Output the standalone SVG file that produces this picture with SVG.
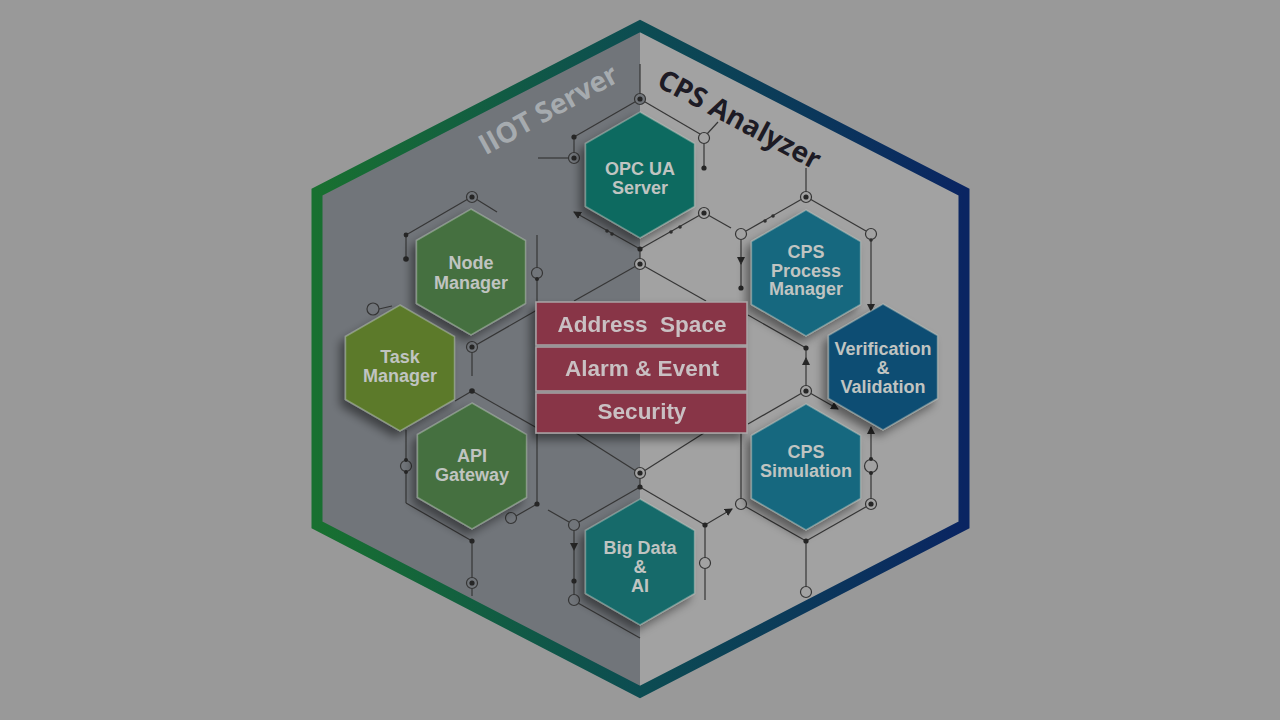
<svg xmlns="http://www.w3.org/2000/svg" width="1280" height="720" viewBox="0 0 1280 720">
<defs>
<linearGradient id="frameGrad" gradientUnits="userSpaceOnUse" x1="317" y1="0" x2="964" y2="0">
<stop offset="0" stop-color="#187030"/>
<stop offset="0.5" stop-color="#0c4c52"/>
<stop offset="1" stop-color="#0a2562"/>
</linearGradient>
<filter id="sh" x="-40%" y="-40%" width="180%" height="180%">
<feDropShadow dx="-5" dy="6" stdDeviation="5" flood-color="#000" flood-opacity="0.45"/>
</filter>
<marker id="arr" viewBox="0 0 8 8" refX="7" refY="4" markerWidth="8" markerHeight="8" markerUnits="userSpaceOnUse" orient="auto">
<path d="M0,0 L8,4 L0,8 z" fill="#262626"/>
</marker>
<polygon id="hex" points="0,-63 54.5,-31.5 54.5,31.5 0,63 -54.5,31.5 -54.5,-31.5"/>
</defs>
<style>
.ln{stroke:#363636;stroke-width:1.2;fill:none}
.dot{fill:#262626}
.sdot{fill:#303030}
.ocL{fill:#71757a;stroke:#363636;stroke-width:1.2}
.ocR{fill:#a2a2a2;stroke:#363636;stroke-width:1.2}
.hx{stroke:#c4ccc4;stroke-opacity:0.45;stroke-width:1.5;filter:url(#sh)}
.nt{font-family:"Liberation Sans",Arial,sans-serif;font-weight:bold;font-size:18px;fill:#c0c4c1;text-anchor:middle}
.bx{fill:#883646;stroke:#a9a4a6;stroke-width:1.5}
.bt{font-family:"Liberation Sans",Arial,sans-serif;font-weight:bold;font-size:22.5px;fill:#c9c0c3;text-anchor:middle;white-space:pre}
.ttl{font-family:"Open Sans","Liberation Sans",sans-serif;font-weight:700;font-size:28px}
</style>

<rect width="1280" height="720" fill="#999999"/>

<g id="frame">
<polygon points="640,26 317,192 317,525 640,692" fill="#71757a"/>
<polygon points="640,26 964,192 964,525 640,692" fill="#a2a2a2"/>
<polygon points="640,26 964,192 964,525 640,692 317,525 317,192" fill="none" stroke="url(#frameGrad)" stroke-width="11" stroke-linejoin="miter"/>
</g>

<g id="titles">
<text class="ttl" x="553" y="118" fill="#a6abaf" text-anchor="middle" transform="rotate(-29 553 118)">IIOT Server</text>
<text class="ttl" x="735" y="128" fill="#1d1b25" text-anchor="middle" transform="rotate(28 735 128)">CPS Analyzer</text>
</g>

<g id="connectors">
<line class="ln" x1="640" y1="64" x2="640" y2="94"/>
<line class="ln" x1="640" y1="99" x2="574" y2="137"/>
<line class="ln" x1="640" y1="99" x2="700" y2="134"/>
<line class="ln" x1="574" y1="137" x2="574" y2="153"/>
<line class="ln" x1="538" y1="158" x2="569" y2="158"/>
<line class="ln" x1="704" y1="143" x2="704" y2="168"/>
<line class="ln" x1="707" y1="134" x2="718" y2="122"/>
<line class="ln" x1="640" y1="249" x2="574" y2="212" marker-end="url(#arr)"/>
<line class="ln" x1="640" y1="249" x2="700" y2="215"/>
<line class="ln" x1="708" y1="215" x2="731" y2="228"/>
<line class="ln" x1="640" y1="249" x2="640" y2="259"/>
<line class="ln" x1="636" y1="266" x2="574" y2="301"/>
<line class="ln" x1="644" y1="266" x2="706" y2="301"/>
<line class="ln" x1="576" y1="433" x2="636" y2="471"/>
<line class="ln" x1="704" y1="433" x2="644" y2="471"/>
<line class="ln" x1="640" y1="478" x2="640" y2="487"/>
<line class="ln" x1="468" y1="199" x2="406" y2="235"/>
<line class="ln" x1="406" y1="235" x2="406" y2="259"/>
<line class="ln" x1="476" y1="199" x2="497" y2="212"/>
<line class="ln" x1="537" y1="235" x2="537" y2="305"/>
<line class="ln" x1="476" y1="345" x2="537" y2="310"/>
<line class="ln" x1="472" y1="352" x2="472" y2="376"/>
<line class="ln" x1="379" y1="309" x2="392" y2="306"/>
<line class="ln" x1="472" y1="391" x2="537" y2="428"/>
<line class="ln" x1="472" y1="391" x2="455" y2="401"/>
<line class="ln" x1="537" y1="428" x2="537" y2="504"/>
<line class="ln" x1="406" y1="430" x2="406" y2="503"/>
<line class="ln" x1="406" y1="503" x2="472" y2="541"/>
<line class="ln" x1="472" y1="541" x2="472" y2="596"/>
<line class="ln" x1="537" y1="504" x2="516" y2="516"/>
<line class="ln" x1="548" y1="510" x2="569" y2="522"/>
<line class="ln" x1="579" y1="522" x2="640" y2="487"/>
<line class="ln" x1="574" y1="530" x2="574" y2="550" marker-end="url(#arr)"/>
<line class="ln" x1="574" y1="549" x2="574" y2="595"/>
<line class="ln" x1="578" y1="603" x2="640" y2="638"/>
<line class="ln" x1="640" y1="487" x2="705" y2="525"/>
<line class="ln" x1="705" y1="525" x2="732" y2="509" marker-end="url(#arr)"/>
<line class="ln" x1="705" y1="525" x2="705" y2="600"/>
<line class="ln" x1="806" y1="168" x2="806" y2="192"/>
<line class="ln" x1="802" y1="199" x2="746" y2="231"/>
<line class="ln" x1="810" y1="199" x2="866" y2="231"/>
<line class="ln" x1="741" y1="240" x2="741" y2="264" marker-end="url(#arr)"/>
<line class="ln" x1="741" y1="262" x2="741" y2="288"/>
<line class="ln" x1="871" y1="240" x2="871" y2="311" marker-end="url(#arr)"/>
<line class="ln" x1="748" y1="315" x2="806" y2="348"/>
<line class="ln" x1="806" y1="386" x2="806" y2="358" marker-end="url(#arr)"/>
<line class="ln" x1="806" y1="360" x2="806" y2="348"/>
<line class="ln" x1="802" y1="393" x2="748" y2="424"/>
<line class="ln" x1="810" y1="393" x2="838" y2="409" marker-end="url(#arr)"/>
<line class="ln" x1="741" y1="428" x2="741" y2="504"/>
<line class="ln" x1="741" y1="504" x2="806" y2="541"/>
<line class="ln" x1="806" y1="541" x2="871" y2="504"/>
<line class="ln" x1="871" y1="504" x2="871" y2="427" marker-end="url(#arr)"/>
<line class="ln" x1="806" y1="541" x2="806" y2="592"/>

<circle class="ocL" cx="640" cy="99" r="5.5"/><circle class="dot" cx="640" cy="99" r="2.6"/>
<circle class="dot" cx="574" cy="137" r="2.6"/>
<circle class="ocL" cx="574" cy="158" r="5.5"/><circle class="dot" cx="574" cy="158" r="2.6"/>
<circle class="ocR" cx="704" cy="138" r="5.5"/>
<circle class="dot" cx="704" cy="168" r="2.6"/>
<circle class="sdot" cx="607" cy="231" r="1.8"/><circle class="sdot" cx="612" cy="234" r="1.8"/>
<circle class="sdot" cx="671" cy="232" r="1.8"/><circle class="sdot" cx="680" cy="227" r="1.8"/>
<circle class="ocR" cx="704" cy="213" r="5.5"/><circle class="dot" cx="704" cy="213" r="2.6"/>
<circle class="dot" cx="640" cy="249" r="2.6"/>
<circle class="ocR" cx="640" cy="264" r="5.5"/><circle class="dot" cx="640" cy="264" r="2.6"/>
<circle class="ocR" cx="640" cy="473" r="5.5"/><circle class="dot" cx="640" cy="473" r="2.6"/>
<circle class="dot" cx="640" cy="487" r="2.6"/>
<circle class="ocL" cx="472" cy="197" r="5.5"/><circle class="dot" cx="472" cy="197" r="2.6"/>
<circle class="dot" cx="406" cy="235" r="2.4"/>
<circle class="dot" cx="406" cy="259" r="2.8"/>
<circle class="ocL" cx="537" cy="273" r="5.5"/><circle class="dot" cx="537" cy="279" r="2"/>
<circle class="ocL" cx="472" cy="347" r="5.5"/><circle class="dot" cx="472" cy="347" r="2.6"/>
<circle class="ocL" cx="373" cy="309" r="6"/>
<circle class="dot" cx="472" cy="391" r="2.8"/>
<circle class="ocL" cx="406" cy="466" r="5.5"/><circle class="dot" cx="406" cy="460" r="2"/><circle class="dot" cx="406" cy="472" r="2"/>
<circle class="dot" cx="537" cy="504" r="2.6"/>
<circle class="ocL" cx="511" cy="518" r="5.5"/>
<circle class="dot" cx="472" cy="541" r="2.6"/>
<circle class="ocL" cx="472" cy="583" r="5.5"/><circle class="dot" cx="472" cy="583" r="2.6"/>
<circle class="ocL" cx="574" cy="525" r="5.5"/>
<circle class="dot" cx="574" cy="581" r="2.6"/>
<circle class="ocL" cx="574" cy="600" r="5.5"/>
<circle class="dot" cx="705" cy="525" r="2.6"/>
<circle class="ocR" cx="705" cy="563" r="5.5"/>
<circle class="ocR" cx="806" cy="197" r="5.5"/><circle class="dot" cx="806" cy="197" r="2.6"/>
<circle class="sdot" cx="765" cy="221" r="1.8"/><circle class="sdot" cx="773" cy="216" r="1.8"/>
<circle class="ocR" cx="741" cy="234" r="5.5"/>
<circle class="ocR" cx="871" cy="234" r="5.5"/><circle class="sdot" cx="871" cy="240" r="1.8"/>
<circle class="dot" cx="741" cy="288" r="2.6"/>
<circle class="dot" cx="806" cy="348" r="2.6"/>
<circle class="ocR" cx="806" cy="391" r="5.5"/><circle class="dot" cx="806" cy="391" r="2.6"/>
<circle class="ocR" cx="741" cy="504" r="5.5"/>
<circle class="dot" cx="806" cy="541" r="2.6"/>
<circle class="ocR" cx="871" cy="504" r="5.5"/><circle class="dot" cx="871" cy="504" r="2.6"/>
<circle class="ocR" cx="871" cy="466" r="6.5"/><circle class="dot" cx="871" cy="459" r="2"/><circle class="dot" cx="871" cy="473" r="2"/>
<circle class="ocR" cx="806" cy="592" r="5.5"/>
</g>

<g id="node-opc-ua-server" transform="translate(640,175)">
<use href="#hex" class="hx" fill="#0e6a61"/>
<text class="nt" x="0" y="0">OPC UA</text>
<text class="nt" x="0" y="19">Server</text>
</g>
<g id="node-node-manager" transform="translate(471,272)">
<use href="#hex" class="hx" fill="#44703f"/>
<text class="nt" x="0" y="-3">Node</text>
<text class="nt" x="0" y="17">Manager</text>
</g>
<g id="node-task-manager" transform="translate(400,368)">
<use href="#hex" class="hx" fill="#5b7a2b"/>
<text class="nt" x="0" y="-5">Task</text>
<text class="nt" x="0" y="14">Manager</text>
</g>
<g id="node-api-gateway" transform="translate(472,466)">
<use href="#hex" class="hx" fill="#44703f"/>
<text class="nt" x="0" y="-4">API</text>
<text class="nt" x="0" y="15">Gateway</text>
</g>
<g id="node-big-data-ai" transform="translate(640,562)">
<use href="#hex" class="hx" fill="#136a6b"/>
<text class="nt" x="0" y="-8">Big Data</text>
<text class="nt" x="0" y="11">&amp;</text>
<text class="nt" x="0" y="30">AI</text>
</g>
<g id="node-cps-process-manager" transform="translate(806,273)">
<use href="#hex" class="hx" fill="#13677f"/>
<text class="nt" x="0" y="-15">CPS</text>
<text class="nt" x="0" y="4">Process</text>
<text class="nt" x="0" y="22">Manager</text>
</g>
<g id="node-verification-validation" transform="translate(883,367)">
<use href="#hex" class="hx" fill="#0f4e73"/>
<text class="nt" x="0" y="-12">Verification</text>
<text class="nt" x="0" y="7">&amp;</text>
<text class="nt" x="0" y="26">Validation</text>
</g>
<g id="node-cps-simulation" transform="translate(806,467)">
<use href="#hex" class="hx" fill="#13677f"/>
<text class="nt" x="0" y="-9">CPS</text>
<text class="nt" x="0" y="10">Simulation</text>
</g>

<g id="node-core-stack" filter="url(#sh)">
<g id="node-address-space">
<rect class="bx" x="536" y="302" width="211" height="43"/>
<text class="bt" x="642" y="332" xml:space="preserve">Address  Space</text>
</g>
<g id="node-alarm-event">
<rect class="bx" x="536" y="347" width="211" height="44"/>
<text class="bt" x="642" y="376">Alarm &amp; Event</text>
</g>
<g id="node-security">
<rect class="bx" x="536" y="393" width="211" height="40"/>
<text class="bt" x="642" y="419">Security</text>
</g>
</g>
</svg>
